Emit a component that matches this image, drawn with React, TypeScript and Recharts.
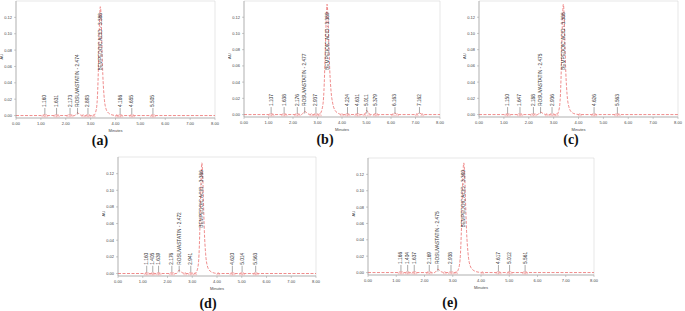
import { ComposedChart, Line, Scatter, XAxis, YAxis, ReferenceArea } from 'recharts';

const xTicks = [0, 1, 2, 3, 4, 5, 6, 7, 8];
const yTicks = [0, 0.02, 0.04, 0.06, 0.08, 0.1, 0.12];

// trace points [minutes, AU]
const traceA = [
  [0, 0], [1.1, 0], [1.16, 0.0012], [1.22, 0], [1.58, 0], [1.63, 0.0008], [1.69, 0], [2.1, 0], [2.17, 0.001], [2.24, 0],
  [2.36, 0], [2.47, 0.0035], [2.58, 0.0008], [2.7, 0], [2.84, 0], [2.89, 0.001], [2.95, 0], [3.12, 0], [3.2, 0.004],
  [3.26, 0.016], [3.31, 0.055], [3.35, 0.108], [3.39, 0.133], [3.42, 0.122], [3.45, 0.09], [3.49, 0.05], [3.54, 0.024],
  [3.61, 0.009], [3.72, 0.003], [3.9, 0.0005], [4.05, 0], [4.15, 0], [4.19, 0.0008], [4.24, 0], [4.62, 0], [4.66, 0.0008],
  [4.71, 0], [5.46, 0], [5.5, 0.0008], [5.55, 0], [8, 0],
];
const traceB = [
  [0, 0], [1.06, 0], [1.11, 0.001], [1.17, 0], [1.59, 0], [1.64, 0.0008], [1.7, 0], [2.12, 0], [2.18, 0.001], [2.24, 0],
  [2.35, 0], [2.48, 0.004], [2.6, 0.001], [2.75, 0], [2.89, 0], [2.94, 0.001], [3.0, 0], [3.1, 0.001], [3.18, 0.006],
  [3.25, 0.022], [3.3, 0.06], [3.35, 0.112], [3.39, 0.136], [3.42, 0.125], [3.46, 0.09], [3.5, 0.055], [3.55, 0.03],
  [3.62, 0.014], [3.72, 0.005], [3.85, 0.0015], [4.0, 0], [4.18, 0], [4.22, 0.001], [4.27, 0], [4.58, 0], [4.63, 0.001],
  [4.68, 0], [4.92, 0], [5.01, 0.005], [5.1, 0.001], [5.2, 0], [5.33, 0], [5.38, 0.0015], [5.44, 0], [6.08, 0],
  [6.16, 0.002], [6.25, 0], [7.05, 0], [7.16, 0.002], [7.28, 0], [8, 0],
];
const traceC = [
  [0, 0], [1.1, 0], [1.15, 0.0008], [1.2, 0], [1.6, 0], [1.65, 0.0008], [1.7, 0], [2.13, 0], [2.19, 0.0008], [2.25, 0],
  [2.36, 0], [2.475, 0.003], [2.6, 0.0008], [2.72, 0], [2.88, 0], [2.94, 0.001], [3.0, 0], [3.13, 0], [3.2, 0.004],
  [3.26, 0.017], [3.31, 0.058], [3.35, 0.112], [3.39, 0.136], [3.42, 0.124], [3.45, 0.092], [3.49, 0.052], [3.54, 0.025],
  [3.61, 0.01], [3.72, 0.003], [3.9, 0.0005], [4.05, 0], [4.58, 0], [4.63, 0.0008], [4.68, 0], [5.51, 0], [5.56, 0.0008],
  [5.62, 0], [8, 0],
];
const traceD = [
  [0, 0], [1.12, 0], [1.16, 0.001], [1.21, 0], [1.37, 0], [1.405, 0.0008], [1.44, 0], [1.6, 0], [1.64, 0.0008], [1.68, 0],
  [2.13, 0], [2.18, 0.001], [2.23, 0], [2.36, 0], [2.47, 0.004], [2.59, 0.001], [2.72, 0], [2.9, 0], [2.94, 0.0008],
  [2.99, 0], [3.12, 0], [3.2, 0.004], [3.26, 0.016], [3.31, 0.056], [3.35, 0.108], [3.386, 0.133], [3.42, 0.121],
  [3.45, 0.09], [3.49, 0.05], [3.54, 0.024], [3.61, 0.009], [3.72, 0.003], [3.9, 0.0005], [4.05, 0], [4.58, 0],
  [4.62, 0.0008], [4.67, 0], [4.97, 0], [5.01, 0.0008], [5.06, 0], [5.52, 0], [5.56, 0.0008], [5.61, 0], [8, 0],
];
const traceE = [
  [0, 0], [1.12, 0], [1.166, 0.001], [1.21, 0], [1.37, 0], [1.404, 0.0006], [1.44, 0], [1.6, 0], [1.637, 0.0008],
  [1.68, 0], [2.12, 0], [2.17, 0.001], [2.22, 0], [2.36, 0], [2.475, 0.004], [2.59, 0.001], [2.72, 0], [2.9, 0],
  [2.94, 0.0008], [2.99, 0], [3.12, 0], [3.2, 0.004], [3.26, 0.016], [3.31, 0.056], [3.35, 0.109], [3.39, 0.134],
  [3.42, 0.122], [3.45, 0.09], [3.49, 0.05], [3.54, 0.024], [3.61, 0.009], [3.72, 0.003], [3.9, 0.0005], [4.05, 0],
  [4.58, 0], [4.617, 0.0008], [4.66, 0], [4.97, 0], [5.012, 0.0008], [5.05, 0], [5.52, 0], [5.561, 0.0008], [5.6, 0], [8, 0],
];

// peak labels [minutes, text]
const peaksA: [number, string][] = [
  [1.16, '1.160'], [1.631, '1.631'], [2.173, '2.173'], [2.474, 'ROSUVASTATIN - 2.474'], [2.893, '2.893'],
  [4.186, '4.186'], [4.655, '4.655'], [5.505, '5.505'],
];
const peaksB: [number, string][] = [
  [1.107, '1.107'], [1.638, '1.638'], [2.176, '2.176'], [2.477, 'ROSUVASTATIN - 2.477'], [2.937, '2.937'],
  [4.224, '4.224'], [4.631, '4.631'], [5.011, '5.011'], [5.379, '5.379'], [6.163, '6.163'], [7.162, '7.162'],
];
const peaksC: [number, string][] = [
  [1.15, '1.150'], [1.647, '1.647'], [2.188, '2.188'], [2.475, 'ROSUVASTATIN - 2.475'], [2.936, '2.936'],
  [4.626, '4.626'], [5.563, '5.563'],
];
const peaksD: [number, string][] = [
  [1.16, '1.160'], [1.405, '1.405'], [1.639, '1.639'], [2.176, '2.176'], [2.472, 'ROSUVASTATIN - 2.472'],
  [2.941, '2.941'], [4.62, '4.620'], [5.014, '5.014'], [5.563, '5.563'],
];
const peaksE: [number, string][] = [
  [1.166, '1.166'], [1.404, '1.404'], [1.637, '1.637'], [2.169, '2.169'], [2.475, 'ROSUVASTATIN - 2.475'],
  [2.938, '2.938'], [4.617, '4.617'], [5.012, '5.012'], [5.561, '5.561'],
];
const mainA: [number, string] = [3.388, 'BEMPEDOIC ACID - 3.388'];
const mainB: [number, string] = [3.389, 'BEMPEDOIC ACID - 3.389'];
const mainC: [number, string] = [3.388, 'BEMPEDOIC ACID - 3.388'];
const mainD: [number, string] = [3.386, 'BEMPEDOIC ACID - 3.386'];
const mainE: [number, string] = [3.39, 'BEMPEDOIC ACID - 3.390'];

// integration start/end marks (minutes)
const marksA = [1.1, 1.22, 1.58, 1.69, 2.1, 2.24, 2.7, 2.84, 2.95, 3.12, 4.05, 4.15, 4.24, 4.62, 4.71, 5.46, 5.55];
const marksB = [1.06, 1.17, 1.59, 1.7, 2.12, 2.24, 2.75, 2.89, 3.0, 3.1, 4.0, 4.18, 4.27, 4.58, 4.68, 4.92, 5.1, 5.33, 5.44, 6.08, 6.25, 7.05, 7.28];
const marksC = [1.1, 1.2, 1.6, 1.7, 2.13, 2.25, 2.72, 2.88, 3.0, 3.13, 4.05, 4.58, 4.68, 5.51, 5.62];
const marksD = [1.12, 1.21, 1.37, 1.44, 1.6, 1.68, 2.13, 2.23, 2.72, 2.9, 2.99, 3.12, 4.05, 4.58, 4.67, 4.97, 5.06, 5.52, 5.61];
const marksE = [1.12, 1.21, 1.37, 1.44, 1.6, 1.68, 2.12, 2.22, 2.72, 2.9, 2.99, 3.12, 4.05, 4.58, 4.66, 4.97, 5.05, 5.52, 5.6];

const RED = '#e85a5a';
const FONT = '"Liberation Sans", Arial, sans-serif';

function PeakLabel(props: any) {
  const { cx, cy, payload } = props;
  if (cx == null || cy == null) return null;
  return (
    <g>
      {!payload.main && <line x1={cx} x2={cx} y1={cy + 1} y2={cy + 7.5} stroke="#555" strokeWidth={0.5} />}
      <text
        x={cx}
        y={cy}
        transform={`rotate(-90 ${cx} ${cy})`}
        fontSize={4.8}
        fill="#333"
        fontFamily={FONT}
        dominantBaseline="central"
      >
        {payload.name}
      </text>
    </g>
  );
}

function Tri(props: any) {
  const { cx, cy } = props;
  if (cx == null || cy == null) return null;
  return (
    <path
      d={`M${cx - 1.6},${cy + 1.3}L${cx},${cy - 1.4}L${cx + 1.6},${cy + 1.3}Z`}
      fill="none"
      stroke="#f0a0a0"
      strokeWidth={0.5}
    />
  );
}

type PanelProps = {
  left: number;
  top: number;
  width: number;
  height: number;
  trace: number[][];
  peaks: [number, string][];
  main: [number, string];
  marks: number[];
};

function Panel({ left, top, width, height, trace, peaks, main, marks }: PanelProps) {
  const line = trace.map(([t, au]) => ({ t, au }));
  const labels = [
    ...peaks.map(([t, name]) => ({ t, au: 0.0105, name, main: false })),
    { t: main[0], au: 0.055, name: main[1], main: true },
  ];
  const tri = marks.map((t) => ({ t, au: 0 }));
  return (
    <div style={{ position: 'absolute', left, top }}>
      <ComposedChart width={width} height={height} margin={{ top: 1, right: 5, bottom: 0, left: 0 }}>
        <XAxis
          type="number"
          dataKey="t"
          domain={[0, 8]}
          ticks={xTicks}
          interval={0}
          allowDataOverflow
          tickFormatter={(v: number) => v.toFixed(2)}
          tick={{ fontSize: 4, fill: '#444', fontFamily: FONT }}
          tickSize={2}
          axisLine={{ stroke: '#999', strokeWidth: 0.6 }}
          tickLine={{ stroke: '#999', strokeWidth: 0.5 }}
          height={16}
          label={{ value: 'Minutes', position: 'insideBottom', offset: 2, fontSize: 4, fill: '#444', fontFamily: FONT }}
        />
        <YAxis
          type="number"
          dataKey="au"
          domain={[-0.003, 0.14]}
          ticks={yTicks}
          interval={0}
          allowDataOverflow
          tickFormatter={(v: number) => v.toFixed(2)}
          tick={{ fontSize: 4, fill: '#444', fontFamily: FONT }}
          tickSize={2}
          axisLine={{ stroke: '#999', strokeWidth: 0.6 }}
          tickLine={{ stroke: '#999', strokeWidth: 0.5 }}
          width={16}
          label={{ value: 'AU', angle: -90, position: 'insideLeft', offset: 2, fontSize: 4, fill: '#444', fontFamily: FONT }}
        />
        <ReferenceArea x1={0} x2={8} y1={-0.003} y2={0.14} fill="none" stroke="#d6d6d6" strokeWidth={0.6} />
        <Scatter data={tri} shape={<Tri />} isAnimationActive={false} />
        <Line
          data={line}
          dataKey="au"
          type="monotone"
          dot={false}
          stroke={RED}
          strokeWidth={0.7}
          strokeDasharray="3 1.5"
          isAnimationActive={false}
        />
        <Scatter data={labels} shape={<PeakLabel />} isAnimationActive={false} />
      </ComposedChart>
    </div>
  );
}

function Caption({ x, y, text }: { x: number; y: number; text: string }) {
  return (
    <div
      style={{
        position: 'absolute',
        left: x,
        top: y,
        transform: 'translate(-50%, -50%)',
        fontFamily: '"Liberation Serif", "Times New Roman", serif',
        fontWeight: 'bold',
        fontSize: 14,
        color: '#111',
        lineHeight: 1,
      }}
    >
      {text}
    </div>
  );
}

export default function App() {
  return (
    <div style={{ position: 'absolute', left: 0, top: 0, width: 685, height: 311, background: '#fff', overflow: 'hidden' }}>
      <Panel left={0} top={0} width={220} height={134} trace={traceA} peaks={peaksA} main={mainA} marks={marksA} />
      <Panel left={228} top={0} width={217} height={133} trace={traceB} peaks={peaksB} main={mainB} marks={marksB} />
      <Panel left={463} top={0} width={220} height={133} trace={traceC} peaks={peaksC} main={mainC} marks={marksC} />
      <Panel left={102} top={156} width={219} height={136} trace={traceD} peaks={peaksD} main={mainD} marks={marksD} />
      <Panel left={352} top={157} width={247} height={134} trace={traceE} peaks={peaksE} main={mainE} marks={marksE} />
      <Caption x={100} y={141} text="(a)" />
      <Caption x={325} y={140} text="(b)" />
      <Caption x={571} y={140} text="(c)" />
      <Caption x={208} y={304} text="(d)" />
      <Caption x={450} y={303} text="(e)" />
    </div>
  );
}
